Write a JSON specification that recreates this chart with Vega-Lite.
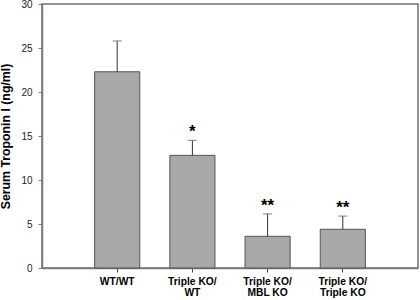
{
  "$schema": "https://vega.github.io/schema/vega-lite/v6.json",
  "width": 376,
  "height": 264,
  "autosize": {"type": "none"},
  "padding": {"left": 42, "top": 4, "right": 2, "bottom": 32},
  "background": "white",
  "config": {
    "font": "Liberation Sans",
    "view": {"stroke": "#6e6e6e", "strokeWidth": 1.5}
  },
  "data": {
    "values": [
      {"group": "WT/WT", "mean": 22.3, "upper": 25.8, "sig": ""},
      {"group": "Triple KO/|WT", "mean": 12.8, "upper": 14.5, "sig": "*"},
      {"group": "Triple KO/|MBL KO", "mean": 3.6, "upper": 6.15, "sig": "**"},
      {"group": "Triple KO/|Triple KO", "mean": 4.4, "upper": 5.9, "sig": "**"}
    ]
  },
  "encoding": {
    "x": {
      "field": "group",
      "type": "nominal",
      "sort": null,
      "scale": {"paddingInner": 0.4, "paddingOuter": 0.7},
      "axis": {
        "title": null,
        "labelAngle": 0,
        "labelExpr": "split(datum.value, '|')",
        "labelFont": "Liberation Sans",
        "labelFontWeight": "bold",
        "labelFontSize": 10.3,
        "labelColor": "black",
        "labelLineHeight": 11,
        "labelPadding": 4,
        "tickSize": 4,
        "tickColor": "#444",
        "domainColor": "#7a7a7a",
        "domainWidth": 1.5
      }
    }
  },
  "layer": [
    {
      "mark": {"type": "bar", "fill": "#a8a8a8", "stroke": "#555555", "strokeWidth": 1},
      "encoding": {
        "y": {
          "field": "mean",
          "type": "quantitative",
          "scale": {"domain": [0, 30], "nice": false},
          "axis": {
            "values": [0, 5, 10, 15, 20, 25, 30],
            "grid": false,
            "title": "Serum Troponin I (ng/ml)",
            "titleFont": "Liberation Sans",
            "titleFontWeight": "bold",
            "titleFontSize": 12.3,
            "titleColor": "black",
            "titlePadding": 8,
            "labelFont": "Liberation Sans",
            "labelFontSize": 10,
            "labelColor": "#222",
            "labelPadding": 6,
            "tickSize": 4,
            "tickColor": "#7a7a7a",
            "domainColor": "#7a7a7a",
            "domainWidth": 1.5
          }
        }
      }
    },
    {
      "mark": {"type": "rule", "color": "#333333", "strokeWidth": 1},
      "encoding": {
        "y": {"field": "mean", "type": "quantitative"},
        "y2": {"field": "upper"}
      }
    },
    {
      "mark": {"type": "tick", "color": "#666666", "thickness": 1.2, "size": 9, "orient": "horizontal"},
      "encoding": {
        "y": {"field": "upper", "type": "quantitative"}
      }
    },
    {
      "mark": {"type": "text", "fontSize": 17, "fontWeight": "bold", "color": "black", "baseline": "alphabetic", "dy": -3, "font": "Liberation Sans"},
      "encoding": {
        "y": {"field": "upper", "type": "quantitative"},
        "text": {"field": "sig"}
      }
    }
  ]
}
